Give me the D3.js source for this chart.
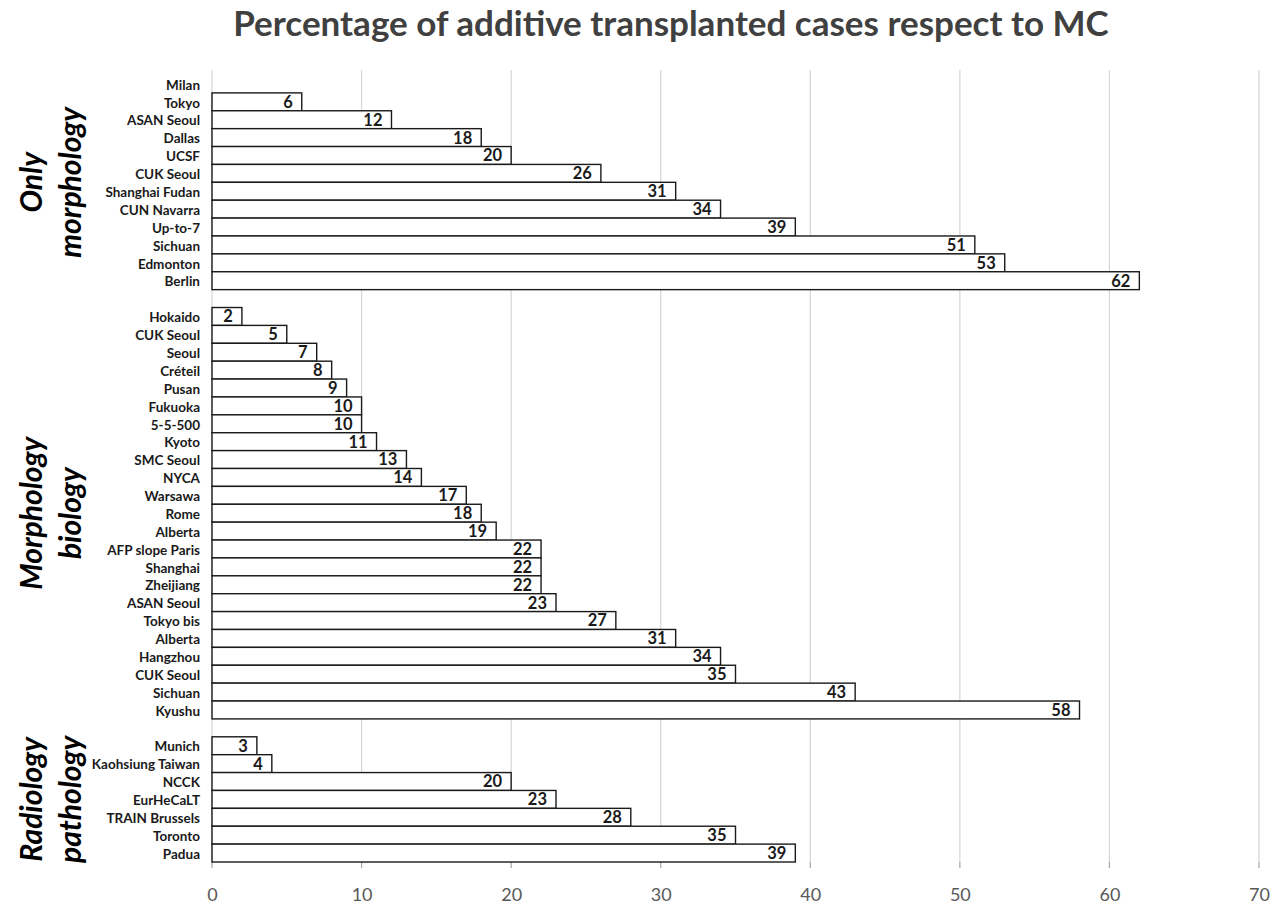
<!DOCTYPE html>
<html>
<head>
<meta charset="utf-8">
<script src="https://cdn.jsdelivr.net/npm/d3@7"></script>
<style>
  html, body { margin: 0; padding: 0; background: #ffffff; }
  svg { display: block; }
  text { font-family: Lato, "Open Sans", sans-serif; }
</style>
</head>
<body>
<svg id="chart" width="1279" height="905"></svg>
<script>
// Groups of criteria, top to bottom
const groupNames = [["Only", "morphology"], ["Morphology", "biology"], ["Radiology", "pathology"]];

const onlyMorphologyNames = ["Milan", "Tokyo", "ASAN Seoul", "Dallas", "UCSF", "CUK Seoul", "Shanghai Fudan",
  "CUN Navarra", "Up-to-7", "Sichuan", "Edmonton", "Berlin"];
const onlyMorphologyValues = [0, 6, 12, 18, 20, 26, 31, 34, 39, 51, 53, 62];

const morphologyBiologyNames = ["Hokaido", "CUK Seoul", "Seoul", "Créteil", "Pusan", "Fukuoka", "5-5-500", "Kyoto",
  "SMC Seoul", "NYCA", "Warsawa", "Rome", "Alberta", "AFP slope Paris", "Shanghai", "Zheijiang", "ASAN Seoul",
  "Tokyo bis", "Alberta", "Hangzhou", "CUK Seoul", "Sichuan", "Kyushu"];
const morphologyBiologyValues = [2, 5, 7, 8, 9, 10, 10, 11, 13, 14, 17, 18, 19, 22, 22, 22, 23, 27, 31, 34, 35, 43, 58];

const radiologyPathologyNames = ["Munich", "Kaohsiung Taiwan", "NCCK", "EurHeCaLT", "TRAIN Brussels", "Toronto", "Padua"];
const radiologyPathologyValues = [3, 4, 20, 23, 28, 35, 39];

const xTicks = [0, 10, 20, 30, 40, 50, 60, 70];
const titleText = "Percentage of additive transplanted cases respect to MC";

// Build the row list: every criterion gets a row, with one empty row between groups
const groups = [
  { names: onlyMorphologyNames, values: onlyMorphologyValues },
  { names: morphologyBiologyNames, values: morphologyBiologyValues },
  { names: radiologyPathologyNames, values: radiologyPathologyValues }
];
const rows = [];
const groupRows = [];
groups.forEach((g, gi) => {
  if (gi > 0) rows.push({ key: "gap" + gi, gap: true });
  const ids = [];
  g.names.forEach((name, i) => {
    const key = "g" + gi + "-" + i;
    rows.push({ key, name, value: g.values[i], group: gi });
    ids.push(key);
  });
  groupRows.push(ids);
});

const svg = d3.select("#chart");
const plotTop = 75, plotBottom = 862;

const x = d3.scaleLinear().domain([0, 70]).range([212, 1259]);
const y = d3.scaleBand().domain(rows.map(r => r.key)).range([plotTop, plotBottom]).padding(0);

// Title
svg.append("text")
  .attr("x", 671).attr("y", 36)
  .attr("text-anchor", "middle")
  .attr("font-size", 35).attr("font-weight", 700)
  .attr("fill", "#404040")
  .text(titleText);

// Vertical gridlines with small ticks under the plot
const grid = svg.append("g");
grid.selectAll("line.grid").data(xTicks).join("line")
  .attr("class", "grid")
  .attr("x1", d => x(d)).attr("x2", d => x(d))
  .attr("y1", 70).attr("y2", plotBottom)
  .attr("stroke", "#d6d6d6").attr("stroke-width", 1.2);
grid.selectAll("line.tick").data(xTicks).join("line")
  .attr("class", "tick")
  .attr("x1", d => x(d)).attr("x2", d => x(d))
  .attr("y1", plotBottom).attr("y2", plotBottom + 6)
  .attr("stroke", "#a6a6a6").attr("stroke-width", 1.2);

// X axis labels
const xAxis = d3.axisBottom(x).tickValues(xTicks).tickSize(0).tickPadding(0);
const axisG = svg.append("g").attr("transform", `translate(0,${plotBottom + 26})`).call(xAxis);
axisG.select(".domain").remove();
axisG.selectAll("text")
  .attr("font-family", "Lato, 'Open Sans', sans-serif")
  .attr("font-size", 18).attr("fill", "#595959").attr("dy", "0.71em");

const dataRows = rows.filter(r => !r.gap);

// Bars
svg.append("g").selectAll("rect").data(dataRows.filter(r => r.value > 0)).join("rect")
  .attr("x", x(0))
  .attr("y", r => y(r.key))
  .attr("width", r => x(r.value) - x(0))
  .attr("height", y.bandwidth())
  .attr("fill", "#ffffff")
  .attr("stroke", "#1a1a1a").attr("stroke-width", 1.4);

// Value labels at the end of each bar
svg.append("g").selectAll("text").data(dataRows.filter(r => r.value > 0)).join("text")
  .attr("x", r => x(r.value) - 9)
  .attr("y", r => y(r.key) + y.bandwidth() / 2)
  .attr("dy", "0.36em")
  .attr("text-anchor", "end")
  .attr("font-size", 16.5).attr("font-weight", 700)
  .attr("fill", "#1a1a1a")
  .text(r => r.value);

// Category labels
svg.append("g").selectAll("text").data(dataRows).join("text")
  .attr("x", 200)
  .attr("y", r => y(r.key) + y.bandwidth() / 2 + 1)
  .attr("dy", "0.35em")
  .attr("text-anchor", "end")
  .attr("font-size", 13.5).attr("font-weight", 700)
  .attr("fill", "#1a1a1a")
  .text(r => r.name);

// Rotated group labels
groupNames.forEach((lines, gi) => {
  const ids = groupRows[gi];
  const cy = (y(ids[0]) + y(ids[ids.length - 1]) + y.bandwidth()) / 2;
  const t = svg.append("text")
    .attr("transform", `translate(42,${cy}) rotate(-90)`)
    .attr("text-anchor", "middle")
    .attr("font-size", 30).attr("font-weight", 700).attr("font-style", "italic")
    .attr("fill", "#000000");
  lines.forEach((line, li) => {
    t.append("tspan").attr("x", 0).attr("dy", li === 0 ? 0 : 39).text(line);
  });
});
</script>
</body>
</html>
